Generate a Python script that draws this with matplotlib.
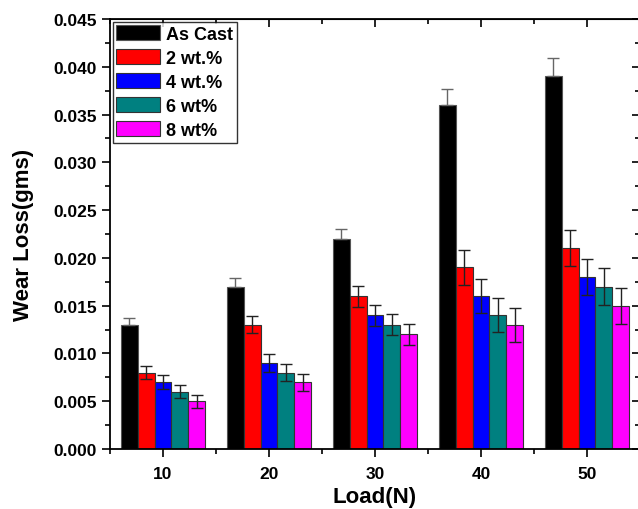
import numpy as np
import matplotlib
matplotlib.use('Agg')
import matplotlib.pyplot as plt
from matplotlib.ticker import MultipleLocator

loads = [10, 20, 30, 40, 50]
labels = ['As Cast', '2 wt.%', '4 wt.%', '6 wt%', '8 wt%']
as_cast = [0.013, 0.017, 0.022, 0.036, 0.039]
wt2 = [0.008, 0.013, 0.016, 0.019, 0.021]
wt4 = [0.007, 0.009, 0.014, 0.016, 0.018]
wt6 = [0.006, 0.008, 0.013, 0.014, 0.017]
wt8 = [0.005, 0.007, 0.012, 0.013, 0.015]
err_as_cast = [0.0007, 0.0009, 0.001, 0.0017, 0.0019]
err_wt2 = [0.0007, 0.0009, 0.0011, 0.0018, 0.0019]
err_wt4 = [0.0007, 0.0009, 0.0011, 0.0018, 0.0019]
err_wt6 = [0.0007, 0.0009, 0.0011, 0.0018, 0.0019]
err_wt8 = [0.0007, 0.0009, 0.0011, 0.0018, 0.0019]

series = [as_cast, wt2, wt4, wt6, wt8]
errs = [err_as_cast, err_wt2, err_wt4, err_wt6, err_wt8]
colors = ['#000000', '#FF0000', '#0000FF', '#008080', '#FF00FF']
ecolors = ['#666666', '#222222', '#222222', '#222222', '#222222']

plt.rcParams['font.family'] = ['Liberation Sans', 'DejaVu Sans']
plt.rcParams['font.weight'] = 'bold'

fig = plt.figure(figsize=(6.38, 5.10), dpi=100)
ax = fig.add_axes([110/638, 60/510, 530/638, 430/510])

width = 1.6
x = np.array(loads, dtype=float)
for i in range(len(series)):
    pos = x + (i - 2) * width
    ax.bar(pos, series[i], width, color=colors[i], edgecolor='#333333' if i > 0 else '#555555',
           linewidth=0.8, label=labels[i], zorder=2)
    e = np.array(errs[i])
    if i == 0:
        yerr = [np.zeros_like(e), e]   # lower half hidden on the black bars
    else:
        yerr = e
    ax.errorbar(pos, series[i], yerr=yerr, fmt='none', ecolor=ecolors[i],
                elinewidth=1.0, capsize=4, capthick=1.0, zorder=3)

ax.set_xlim(5, 55)
ax.set_ylim(0, 0.045)
ax.set_xticks(loads)
ax.xaxis.set_minor_locator(MultipleLocator(5))
ax.yaxis.set_major_locator(MultipleLocator(0.005))
ax.yaxis.set_minor_locator(MultipleLocator(0.0025))
ax.yaxis.set_major_formatter(matplotlib.ticker.FormatStrFormatter('%.3f'))

ax.tick_params(which='both', direction='out', width=1.2, labelsize=12.5)
ax.tick_params(axis='x', pad=6)
ax.tick_params(which='major', length=6)
ax.tick_params(which='minor', length=3.5)
for sp in ax.spines.values():
    sp.set_linewidth(1.3)

# inward ticks on top and right
ax_top = ax.secondary_xaxis('top')
ax_top.set_xticks(loads)
ax_top.xaxis.set_minor_locator(MultipleLocator(5))
ax_top.tick_params(which='both', direction='in', width=1.2, labeltop=False)
ax_top.tick_params(which='major', length=6)
ax_top.tick_params(which='minor', length=3.5)
ax_right = ax.secondary_yaxis('right')
ax_right.yaxis.set_major_locator(MultipleLocator(0.005))
ax_right.yaxis.set_minor_locator(MultipleLocator(0.0025))
ax_right.tick_params(which='both', direction='in', width=1.2, labelright=False)
ax_right.tick_params(which='major', length=6)
ax_right.tick_params(which='minor', length=3.5)

ax.set_xlabel('Load(N)', fontsize=16, fontweight='bold', labelpad=4)
ax.set_ylabel('Wear Loss(gms)', fontsize=16, fontweight='bold', labelpad=14)

leg = ax.legend(loc='upper left', fontsize=13, frameon=True, fancybox=False,
                edgecolor='black', borderaxespad=0.15, borderpad=0.2,
                handlelength=2.4, handleheight=0.9, handletextpad=0.35,
                labelspacing=0.35)
leg.get_frame().set_linewidth(1.0)
for t in leg.get_texts():
    t.set_fontweight('bold')

fig.savefig('out.png', dpi=100)
